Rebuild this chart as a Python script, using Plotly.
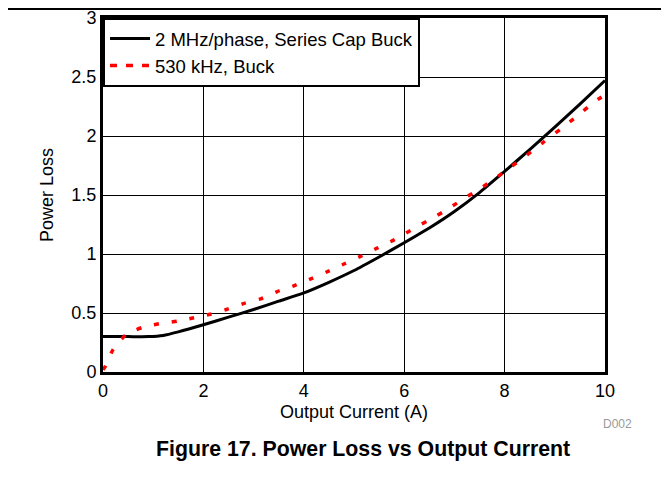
import plotly.graph_objects as go

# Series 1: 2 MHz/phase, Series Cap Buck (black solid)
x_sc = [0, 0.5, 0.9, 1.2, 1.5, 2.0, 2.5, 3.0, 3.5, 4.0, 4.5, 5.0, 5.5, 6.0, 6.5, 7.0, 7.5, 8.0, 8.5, 9.0, 9.5, 10.0]
y_sc = [0.30, 0.30, 0.30, 0.31, 0.34, 0.40, 0.465, 0.53, 0.60, 0.67, 0.76, 0.86, 0.975, 1.095, 1.22, 1.36, 1.52, 1.70, 1.885, 2.075, 2.27, 2.47]

# Series 2: 530 kHz, Buck (red dotted)
x_bk = [0, 0.05, 0.2, 0.47, 0.8, 1.13, 1.48, 1.81, 2.14, 2.46, 2.8, 3.14, 3.46, 3.8, 4.14, 4.47, 4.8, 5.13, 5.46, 5.8,
        6.13, 6.46, 6.79, 7.12, 7.46, 7.78, 8.13, 8.45, 8.78, 9.12, 9.45, 9.79, 10.0]
y_bk = [0.02, 0.05, 0.19, 0.32, 0.38, 0.41, 0.43, 0.46, 0.49, 0.53, 0.58, 0.62, 0.68, 0.73, 0.79, 0.85, 0.915, 0.98, 1.05, 1.12,
        1.20, 1.28, 1.36, 1.45, 1.54, 1.63, 1.74, 1.84, 1.95, 2.06, 2.17, 2.29, 2.35]

x_ticks = [0, 2, 4, 6, 8, 10]
y_ticks = [0, 0.5, 1, 1.5, 2, 2.5, 3]
y_tick_labels = ["0", "0.5", "1", "1.5", "2", "2.5", "3"]

name_sc = "2 MHz/phase, Series Cap Buck"
name_bk = "530 kHz, Buck"

FONT = "Liberation Sans, Arial, sans-serif"

fig = go.Figure()
fig.add_trace(go.Scatter(x=x_sc, y=y_sc, mode="lines", name=name_sc, showlegend=True,
                         line=dict(color="black", width=3, shape="spline", smoothing=0.6)))
fig.add_trace(go.Scatter(x=x_bk, y=y_bk, mode="lines", name=name_bk, showlegend=False,
                         line=dict(color="#ff0000", width=3.5, dash="5px,13px", shape="spline", smoothing=0.6)))
# legend-only entry for the red series (shows dashes like the reference legend)
fig.add_trace(go.Scatter(x=[None], y=[None], mode="lines", name=name_bk, showlegend=True,
                         line=dict(color="#ff0000", width=3.5, dash="7px,9px")))

# the page is offset by the 8px body margin; size the figure to fit the window
OFF = 8
W, H = 669 - OFF, 477 - OFF
L, T, R, B = 103 - OFF, 18 - OFF, 64, 105
PW, PH = 669 - 103 - R, 477 - 18 - B  # plot width / height in pixels (502 x 354)


def px(xw):  # window x -> paper x
    return (xw - 103) / PW


def py(yw):  # window y -> paper y
    return (372 - yw) / PH


fig.update_layout(
    width=W, height=H,
    margin=dict(l=L, r=R, t=T, b=B, autoexpand=False),
    paper_bgcolor="white", plot_bgcolor="white",
    font=dict(family=FONT, size=18, color="black"),
    showlegend=True,
    legend=dict(x=0, y=1, xanchor="left", yanchor="top", bgcolor="white",
                bordercolor="black", borderwidth=2, font=dict(size=18.5),
                tracegroupgap=0, itemwidth=40),
    xaxis=dict(range=[0, 10], tickvals=x_ticks, showgrid=True, gridcolor="black", gridwidth=1,
               showline=True, linecolor="black", linewidth=3, mirror=True, ticks="",
               zeroline=False, tickfont=dict(size=18), automargin=False,
               title=dict(text="Output Current (A)", font=dict(size=18), standoff=6)),
    yaxis=dict(range=[0, 3], tickvals=y_ticks, ticktext=y_tick_labels, showgrid=True, gridcolor="black", gridwidth=1,
               showline=True, linecolor="black", linewidth=3, mirror=True, ticks="",
               zeroline=False, tickfont=dict(size=18), automargin=False,
               title=dict(text="Power Loss", font=dict(size=18), standoff=14)),
    shapes=[dict(type="line", xref="paper", yref="paper", x0=px(0), x1=px(669),
                 y0=py(9), y1=py(9), line=dict(color="black", width=2))],
    annotations=[
        dict(text="D002", xref="paper", yref="paper", x=px(617), y=py(424),
             showarrow=False, font=dict(size=12, color="#999999"), xanchor="center", yanchor="middle"),
        dict(text="<b>Figure 17. Power Loss vs Output Current</b>", xref="paper", yref="paper",
             x=px(363), y=py(449), showarrow=False, font=dict(size=21.3, color="black"),
             xanchor="center", yanchor="middle"),
    ],
)

fig.write_html("out.html")
